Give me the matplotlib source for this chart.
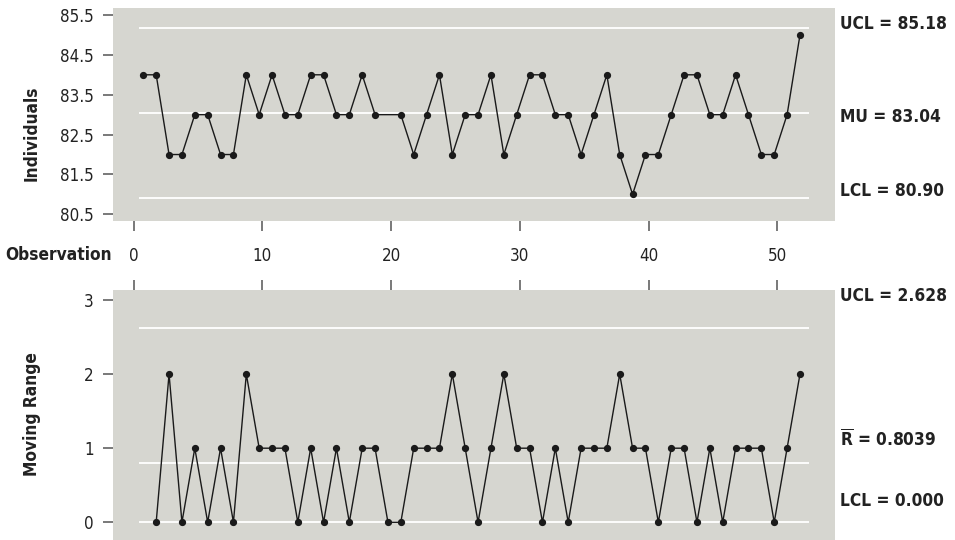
import matplotlib
matplotlib.use("Agg")
import matplotlib.pyplot as plt
from matplotlib import font_manager
import numpy as np

# ---------------- data ----------------
observations = list(range(1, 53))
individuals = [84, 84, 82, 82, 83, 83, 82, 82, 84, 83, 84, 83, 83, 84, 84, 83, 83, 84, 83, 83,
               83, 82, 83, 84, 82, 83, 83, 84, 82, 83, 84, 84, 83, 83, 82, 83, 84, 82, 81, 82,
               82, 83, 84, 84, 83, 83, 84, 83, 82, 82, 83, 85]
mr_obs = list(range(2, 53))
moving_range = [0, 2, 0, 1, 0, 1, 0, 2, 1, 1, 1, 0, 1, 0, 1, 0, 1, 1, 0, 0,
                1, 1, 1, 2, 1, 0, 1, 2, 1, 1, 0, 1, 0, 1, 1, 1, 2, 1, 1, 0,
                1, 1, 0, 1, 0, 1, 1, 1, 0, 1, 2]
ind_limits = {"UCL": 85.18, "MU": 83.04, "LCL": 80.90}
mr_limits = {"UCL": 2.628, "Rbar": 0.8039, "LCL": 0.0}
ind_ticks = [80.5, 81.5, 82.5, 83.5, 84.5, 85.5]
mr_ticks = [0, 1, 2, 3]
x_tick_labels = [0, 10, 20, 30, 40, 50]
hidden_marker_obs = [20]

# ---------------- style ----------------
names = {f.name for f in font_manager.fontManager.ttflist}
FAM = "Liberation Sans Narrow" if "Liberation Sans Narrow" in names else "DejaVu Sans"
STRETCH = "normal" if FAM == "Liberation Sans Narrow" else "condensed"
plt.rcParams["font.family"] = [FAM, "DejaVu Sans"]
plt.rcParams["font.stretch"] = STRETCH
plt.rcParams["mathtext.fontset"] = "custom"
plt.rcParams["mathtext.bf"] = FAM + ":bold"
plt.rcParams["mathtext.rm"] = FAM

TICK_FS = 12.2
LAB_FS = 12.4

BG = "#d6d6d0"
TICKC = "#555555"
LINEC = "#1a1a1a"
TXTC = "#222222"
W, H = 955, 540
fig = plt.figure(figsize=(W / 100, H / 100), dpi=100)

def fx(px):
    return px / W

def fy(py):
    return 1 - py / H

ax1 = fig.add_axes([fx(113.3), fy(220.7), fx(835 - 113.3), (220.7 - 8.3) / H])
ax2 = fig.add_axes([fx(113.3), 0, fx(835 - 113.3), (540 - 290) / H])

for ax in (ax1, ax2):
    ax.set_facecolor(BG)
    for s in ax.spines.values():
        s.set_visible(False)
    ax.set_xlim(-1.33, 54.72)

# reference lines
for v in ind_limits.values():
    ax1.hlines(v, 0.67, 52.7, color="white", lw=1.3, zorder=1)
for v in mr_limits.values():
    ax2.hlines(v, 0.67, 52.7, color="white", lw=1.3, zorder=1)

mk1 = [i for i, o in enumerate(observations) if o not in hidden_marker_obs]
ax1.plot(observations, individuals, color=LINEC, lw=1.0, marker="o", ms=4.2,
         markevery=mk1, zorder=3)
ax2.plot(mr_obs, moving_range, color=LINEC, lw=1.0, marker="o", ms=4.2, zorder=3)

ax1.set_ylim(80.34, 85.668)
ax2.set_ylim(-0.239, 3.135)

ax1.set_yticks(ind_ticks, [f"{t:.1f}" for t in ind_ticks])
ax2.set_yticks(mr_ticks, [str(t) for t in mr_ticks])
for ax in (ax1, ax2):
    ax.tick_params(axis="y", direction="out", length=7.2, width=1.1, color=TICKC,
                   pad=7, labelsize=TICK_FS, labelcolor=TXTC)

xt = [t + 0.25 for t in x_tick_labels]
ax1.set_xticks(xt, [str(t) for t in x_tick_labels])
ax1.tick_params(axis="x", direction="out", length=7.2, width=1.1, color=TICKC,
                pad=12, labelsize=TICK_FS, labelcolor=TXTC)
ax2.set_xticks(xt)
ax2.tick_params(axis="x", direction="out", length=7.2, width=1.1, color=TICKC,
                bottom=False, top=True, labelbottom=False, labeltop=False)

# axis labels
fig.text(fx(112), fy(255), "Observation", ha="right", va="center",
         fontsize=LAB_FS, fontweight="bold", color=TXTC)
fig.text(fx(32), fy(133), "Individuals", ha="center", va="center", rotation=90,
         fontsize=LAB_FS, fontweight="bold", color=TXTC)
fig.text(fx(32), fy(414), "Moving Range", ha="center", va="center", rotation=90,
         fontsize=LAB_FS, fontweight="bold", color=TXTC)

# limit labels
right_labels = [
    (29, f"UCL = {ind_limits['UCL']:.2f}"),
    (122, f"MU = {ind_limits['MU']:.2f}"),
    (195.5, f"LCL = {ind_limits['LCL']:.2f}"),
    (301, f"UCL = {mr_limits['UCL']:.3f}"),
    (446, r"$\overline{\mathbf{R}}$" + f" = {mr_limits['Rbar']:.4f}"),
    (506, f"LCL = {mr_limits['LCL']:.3f}"),
]
for yb, txt in right_labels:
    fig.text(fx(840), fy(yb), txt, ha="left", va="baseline",
             fontsize=LAB_FS, fontweight="bold", color=TXTC)

fig.savefig("out.png", dpi=100, facecolor="white")
